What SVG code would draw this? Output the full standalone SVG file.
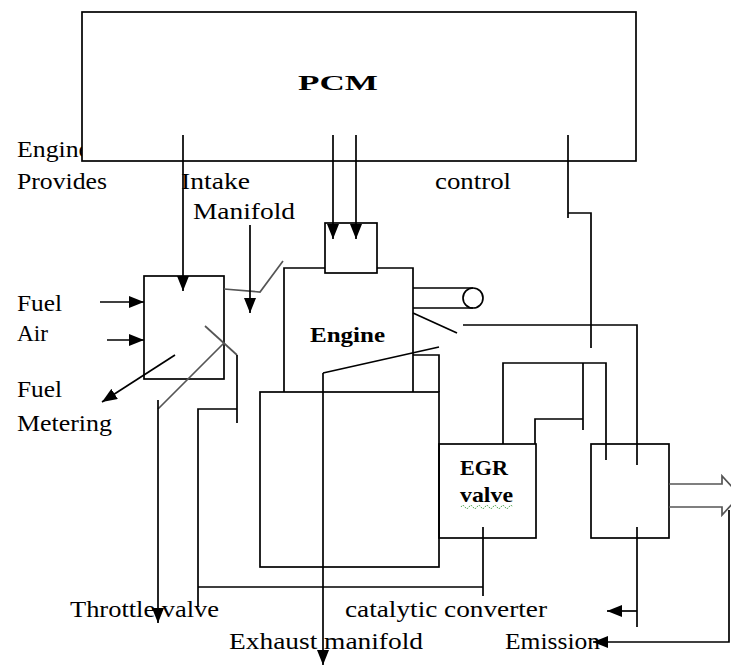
<svg xmlns="http://www.w3.org/2000/svg" width="731" height="666" viewBox="0 0 731 666">
<style>
.t{font-family:"Liberation Serif","Times New Roman",serif;font-size:24px;fill:#000}
.b{font-family:"Liberation Serif","Times New Roman",serif;font-size:22px;font-weight:bold;fill:#000}
.ln{fill:none;stroke:#000;stroke-width:1.7}
.gr{fill:none;stroke:#555;stroke-width:1.7}
.bx{fill:#fff;stroke:#000;stroke-width:1.7}
</style>
<defs>
<marker id="ahL" viewBox="0 0 15 12" refX="15" refY="6" markerWidth="15" markerHeight="12" markerUnits="userSpaceOnUse" orient="auto"><path d="M0,0 L15,6 L0,12 Z" fill="#000"/></marker>
</defs>
<g id="labels">
<text class="t" x="17" y="157" textLength="73" lengthAdjust="spacingAndGlyphs">Engine</text>
<text class="t" x="17" y="189" textLength="90" lengthAdjust="spacingAndGlyphs">Provides</text>
<text class="t" x="181" y="189" textLength="69" lengthAdjust="spacingAndGlyphs">Intake</text>
<text class="t" x="193" y="219" textLength="102" lengthAdjust="spacingAndGlyphs">Manifold</text>
<text class="t" x="435" y="189" textLength="76" lengthAdjust="spacingAndGlyphs">control</text>
<text class="t" x="17" y="311" textLength="45" lengthAdjust="spacingAndGlyphs">Fuel</text>
<text class="t" x="17" y="341" textLength="31" lengthAdjust="spacingAndGlyphs">Air</text>
<text class="t" x="17" y="397" textLength="45" lengthAdjust="spacingAndGlyphs">Fuel</text>
<text class="t" x="17" y="431" textLength="95" lengthAdjust="spacingAndGlyphs">Metering</text>
<text class="t" x="70" y="617" textLength="149" lengthAdjust="spacingAndGlyphs">Throttle valve</text>
<text class="t" x="345" y="617" textLength="202" lengthAdjust="spacingAndGlyphs">catalytic converter</text>
<text class="t" x="229" y="649" textLength="194" lengthAdjust="spacingAndGlyphs">Exhaust manifold</text>
<text class="t" x="505" y="649" textLength="95" lengthAdjust="spacingAndGlyphs">Emission</text>
</g>
<g id="pcm">
<rect class="bx" x="82" y="12" width="554" height="149"/>
<text class="b" x="298" y="90" font-size="27" textLength="80" lengthAdjust="spacingAndGlyphs">PCM</text>
</g>
<g id="carburetor">
<rect class="bx" x="144" y="276" width="80" height="103"/>
</g>
<g id="engine">
<path class="ln" d="M284,392 V268 H325 M377,268 H413 V392"/>
<rect class="ln" x="325" y="223" width="52" height="50"/>
<text class="b" x="310" y="342" textLength="75" lengthAdjust="spacingAndGlyphs">Engine</text>
<rect class="ln" x="260" y="392" width="179" height="175"/>
<circle class="ln" cx="473" cy="298" r="10"/>
</g>
<g id="egr">
<rect class="ln" x="439" y="444" width="97" height="94"/>
<text class="b" x="460" y="475" font-size="21" textLength="48" lengthAdjust="spacingAndGlyphs">EGR</text>
<text class="b" x="460" y="502" font-size="21" textLength="53" lengthAdjust="spacingAndGlyphs">valve</text>
<path d="M461,507 q2,-3 4,0 t4,0 t4,0 t4,0 t4,0 t4,0 t4,0 t4,0 t4,0 t4,0 t4,0 t4,0 t4,0" fill="none" stroke="#3a9a3a" stroke-width="1" stroke-dasharray="1.5,1"/>
</g>
<g id="catalytic">
<rect class="ln" x="591" y="444" width="78" height="94"/>
</g>
<g id="connectors">
<path class="ln" d="M183,135 V291" marker-end="url(#ahL)"/>
<path class="ln" d="M333,135 V239" marker-end="url(#ahL)"/>
<path class="ln" d="M356,135 V239" marker-end="url(#ahL)"/>
<path class="ln" d="M100,302 H144" marker-end="url(#ahL)"/>
<path class="ln" d="M107,340 H144" marker-end="url(#ahL)"/>
<path class="ln" d="M175,355 L102,402" marker-end="url(#ahL)"/>
<path class="gr" d="M224,289 L260,292 L283,261"/>
<path class="ln" d="M250,225 V313" marker-end="url(#ahL)"/>
<path class="gr" d="M205,326 L237,355"/>
<path class="gr" d="M224,343 L158,409"/>
<path class="ln" d="M237,355 V423 M237,409 H198 V607 M198,587 H483 M483,527 V596"/>
<path class="ln" d="M158,400 V623" marker-end="url(#ahL)"/>
<path class="ln" d="M413,288 H473 M413,308 H473"/>
<path class="ln" d="M413,313 L457,333"/>
<path class="ln" d="M463,325 H637 V465"/>
<path class="ln" d="M568,135 V218 M568,213 H591 V348"/>
<path class="ln" d="M323,373 L439,347"/>
<path class="ln" d="M323,373 V665" marker-end="url(#ahL)"/>
<path class="ln" d="M413,355 H439 V392"/>
<path class="ln" d="M503,444 V363 H606 V460 M583,363 V430 M535,444 V419 H583"/>
<path class="ln" d="M637,527 V627"/>
<path class="ln" d="M637,611 H607" marker-end="url(#ahL)"/>
<path class="gr" d="M669,484 H722 V476 L740,495.5 L722,515 V507 H669"/>
<path class="ln" d="M729,510 V642 H593" marker-end="url(#ahL)"/>
</g>
</svg>
